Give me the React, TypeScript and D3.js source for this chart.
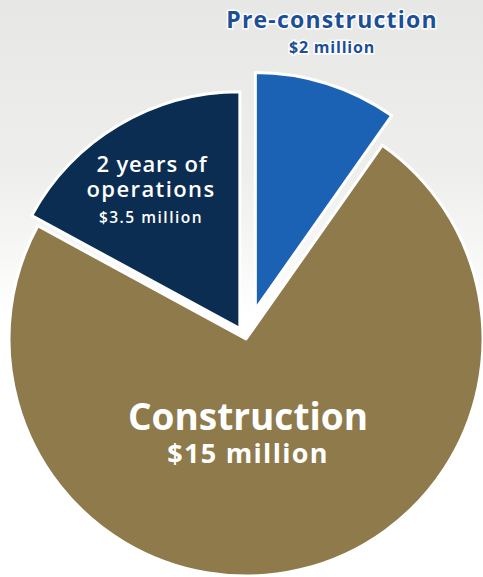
import React from "react";
import * as d3 from "d3";

// slices of the budget, in $ million, clockwise from 12 o'clock
const categories = ["Pre-construction", "Construction", "2 years of operations"];
const values = [2, 15, 3.5];
const valueLabels = ["$2 million", "$15 million", "$3.5 million"];
const colors = ["#1b62b5", "#8e7a4b", "#0c2d52"];
const explode = [31, 0, 12];

const W = 483;
const H = 577;

const App = () => {
  const cx = 246;
  const cy = 339;
  const r = 237;

  const pie = d3
    .pie<number>()
    .sort(null)
    .value((d) => d)
    .startAngle(0)
    .endAngle(2 * Math.PI);
  const arcs = pie(values);
  const arc = d3.arc<d3.PieArcDatum<number>>().innerRadius(0).outerRadius(r);

  const offset = (a: d3.PieArcDatum<number>, k: number) => {
    const mid = (a.startAngle + a.endAngle) / 2;
    return [Math.sin(mid) * k, -Math.cos(mid) * k];
  };

  const font = "'Open Sans', 'Noto Sans', sans-serif";

  return (
    <svg
      width={W}
      height={H}
      style={{ position: "absolute", left: 0, top: 0, display: "block" }}
    >
      <defs>
        <linearGradient id="bg" x1="0" y1="0" x2="0" y2="1">
          <stop offset="0" stopColor="#e7e7e5" />
          <stop offset="0.3" stopColor="#eeeeec" />
          <stop offset="0.55" stopColor="#ffffff" />
          <stop offset="1" stopColor="#ffffff" />
        </linearGradient>
      </defs>
      <rect width={W} height={H} fill="url(#bg)" />

      <g transform={`translate(${cx},${cy})`}>
        {arcs.map((a, i) => {
          const [dx, dy] = offset(a, explode[i]);
          return (
            <path
              key={categories[i]}
              d={arc(a) || ""}
              transform={`translate(${dx},${dy})`}
              fill={colors[i]}
              stroke="#ffffff"
              strokeWidth={3}
              strokeLinejoin="round"
            />
          );
        })}
      </g>

      {/* Pre-construction, above the pie */}
      <g fontFamily={font} fontWeight="bold" textAnchor="middle">
        <text
          x={332}
          y={28}
          fontSize={23}
          fill="#1c4f98"
          stroke="#ffffff"
          strokeWidth={3}
          paintOrder="stroke"
          letterSpacing={1.2}
        >
          {categories[0]}
        </text>
        <text
          x={332}
          y={53}
          fontSize={16}
          fill="#1c4f98"
          stroke="#ffffff"
          strokeWidth={3}
          paintOrder="stroke"
          letterSpacing={0.8}
        >
          {valueLabels[0]}
        </text>
      </g>

      {/* operations, inside navy slice */}
      <g fontFamily={font} textAnchor="middle" fill="#ffffff" fontWeight={600}>
        <text x={152} y={172} fontSize={22} letterSpacing={0.8}>
          2 years of
        </text>
        <text x={151} y={197} fontSize={22} letterSpacing={1.4}>
          operations
        </text>
        <text x={151} y={223} fontSize={15.5} letterSpacing={1.5}>
          {valueLabels[2]}
        </text>
      </g>

      {/* construction, inside gold slice */}
      <g fontFamily={font} textAnchor="middle" fill="#ffffff" fontWeight="bold">
        <text x={248} y={430} fontSize={37}>
          {categories[1]}
        </text>
        <text x={248} y={463} fontSize={27} letterSpacing={1.3}>
          {valueLabels[1]}
        </text>
      </g>
    </svg>
  );
};

export default App;
